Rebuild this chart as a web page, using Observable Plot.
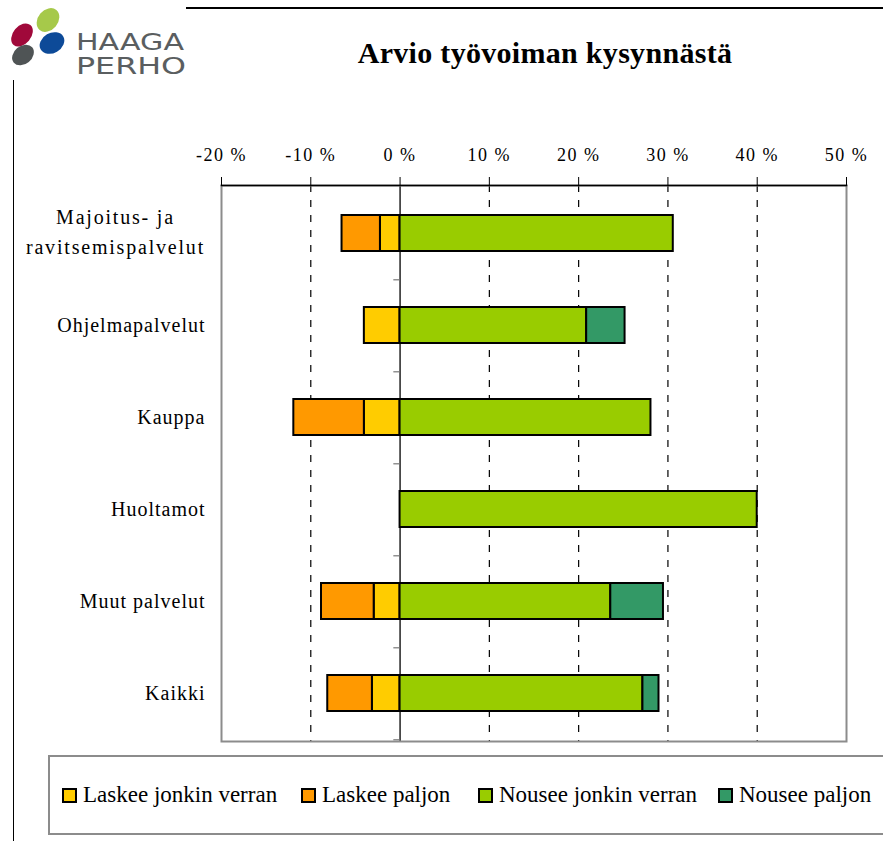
<!DOCTYPE html>
<html>
<head>
<meta charset="utf-8">
<script src="https://cdn.jsdelivr.net/npm/d3@7"></script>
<script src="https://cdn.jsdelivr.net/npm/@observablehq/plot@0.6"></script>
<style>
  html, body { margin: 0; padding: 0; background: #fff; }
  #page { position: relative; width: 883px; height: 841px; overflow: hidden; background: #fff; font-family: "Liberation Serif", "Times New Roman", serif; }
  #topline { position: absolute; left: 186px; top: 7px; width: 697px; height: 2px; background: #000; }
  #leftline { position: absolute; left: 13px; top: 80px; width: 1px; height: 761px; background: #000; }
  #logo { position: absolute; left: 0; top: 0; }
  #title { position: absolute; left: 0; width: 1090px; top: 36px; text-align: center; font-weight: bold; font-size: 30px; letter-spacing: 0.3px; color: #000; }
  #chart { position: absolute; left: 0; top: 0; }
  #chart svg, #chart svg text { font-family: "Liberation Serif", "Times New Roman", serif; }
  #chart svg text { fill: #000; }
  #chart g[aria-label="x-axis tick label"] text { letter-spacing: 1.5px; }
  #chart .catlab text { letter-spacing: 1px; }
  #chart .catlab2 text { letter-spacing: 1.8px; }
  #legend { position: absolute; left: 48px; top: 755px; width: 900px; height: 80px; border: 2px solid #8c8c8c; box-sizing: border-box; }
  .li { position: absolute; top: 25px; display: flex; align-items: center; font-size: 23px; white-space: nowrap; color: #000; }
  .sw { width: 11px; height: 11px; border: 2px solid #000; margin-right: 6px; }
</style>
</head>
<body>
<div id="page">
  <svg id="logo" width="200" height="85" viewBox="0 0 200 85">
    <ellipse cx="22" cy="35" rx="9" ry="13" transform="rotate(40 22 35)" fill="#a0093a"/>
    <ellipse cx="48" cy="20" rx="10" ry="13" transform="rotate(40 48 20)" fill="#a6c94a"/>
    <ellipse cx="52" cy="43" rx="10" ry="13" transform="rotate(60 52 43)" fill="#0d4a98"/>
    <ellipse cx="23" cy="55" rx="9" ry="12" transform="rotate(50 23 55)" fill="#4f5455"/>
    <text x="76" y="50" font-family="'DejaVu Sans', sans-serif" font-size="23" fill="#5a5e60" textLength="108" lengthAdjust="spacingAndGlyphs">HAAGA</text>
    <text x="76" y="74" font-family="'DejaVu Sans', sans-serif" font-size="23" fill="#5a5e60" textLength="110" lengthAdjust="spacingAndGlyphs">PERHO</text>
  </svg>
  <div id="topline"></div>
  <div id="leftline"></div>
  <div id="title">Arvio työvoiman kysynnästä</div>
  <div id="chart"></div>
  <div id="legend"></div>
</div>
<script>
// ---- data ----
const categories = ["Majoitus- ja ravitsemispalvelut", "Ohjelmapalvelut", "Kauppa", "Huoltamot", "Muut palvelut", "Kaikki"];
const categoryLabels = ["Majoitus- ja\nravitsemispalvelut", "Ohjelmapalvelut", "Kauppa", "Huoltamot", "Muut palvelut", "Kaikki"];
const seriesNames = ["Laskee jonkin verran", "Laskee paljon", "Nousee jonkin verran", "Nousee paljon"];
const seriesColors = ["#ffcc00", "#ff9900", "#99cc00", "#339966"];
const laskeeJonkinVerran = [-2.2, -4.0, -4.0, 0, -2.9, -3.1];
const laskeePaljon = [-4.3, 0, -7.9, 0, -5.9, -5.0];
const nouseeJonkinVerran = [30.6, 20.9, 28.1, 40.0, 23.6, 27.2];
const nouseePaljon = [0, 4.3, 0, 0, 5.9, 1.8];
const xTicks = [-20, -10, 0, 10, 20, 30, 40, 50];
const gridTicks = [-10, 10, 20, 30, 40];

const seriesValues = [laskeeJonkinVerran, laskeePaljon, nouseeJonkinVerran, nouseePaljon];
const rows = [];
seriesNames.forEach((s, si) => {
  categories.forEach((c, ci) => {
    const v = seriesValues[si][ci];
    if (v !== 0) rows.push({category: c, series: s, value: v});
  });
});
const labelOf = new Map(categories.map((c, i) => [c, categoryLabels[i]]));
const multi = categories.filter(c => labelOf.get(c).includes("\n"));
const single = categories.filter(c => !labelOf.get(c).includes("\n"));

const chart = Plot.plot({
  width: 883,
  height: 760,
  marginLeft: 221,
  marginRight: 37,
  marginTop: 185,
  marginBottom: 19,
  style: {fontFamily: "'Liberation Serif', 'Times New Roman', serif", fontSize: "18px", background: "transparent", overflow: "visible", color: "#000"},
  x: {domain: [-20, 50], axis: null},
  y: {domain: categories, paddingInner: 0.61, paddingOuter: 0.305, axis: null},
  color: {domain: seriesNames, range: seriesColors},
  marks: [
    Plot.ruleX(gridTicks, {stroke: "#000", strokeWidth: 1.2, strokeDasharray: "7,8"}),
    Plot.ruleX([0], {stroke: "#000", strokeWidth: 1.3}),
    Plot.ruleY(categories, {x1: -0.7, x2: 0, dy: 46.3, stroke: "#777", strokeWidth: 1.2}),
    Plot.barX(rows, {x: "value", y: "category", fill: "series", stroke: "#000", strokeWidth: 2, order: seriesNames}),
    Plot.frame({stroke: "#8c8c8c", strokeWidth: 2}),
    Plot.frame({anchor: "top", stroke: "#000", strokeWidth: 1.5}),
    Plot.axisX({anchor: "top", ticks: xTicks, tickSize: 9, tickPadding: 16, tickFormat: d => `${d} %`, fontSize: 18, label: null, stroke: "#000"}),
    Plot.text(single, {y: d => d, text: d => labelOf.get(d), frameAnchor: "left", textAnchor: "end", dx: -16, fontSize: 20, className: "catlab"}),
    Plot.text(multi, {y: d => d, text: d => labelOf.get(d), frameAnchor: "left", textAnchor: "middle", dx: -106, dy: -4, fontSize: 20, lineHeight: 1.5, className: "catlab2"})
  ]
});
document.getElementById("chart").appendChild(chart);

// legend from series arrays
const lg = document.getElementById("legend");
const legendX = [12, 251, 428, 668];
seriesNames.forEach((s, i) => {
  const item = document.createElement("div");
  item.className = "li";
  item.style.left = legendX[i] + "px";
  const sw = document.createElement("div");
  sw.className = "sw";
  sw.style.background = seriesColors[i];
  const t = document.createElement("span");
  t.textContent = s;
  item.appendChild(sw);
  item.appendChild(t);
  lg.appendChild(item);
});
</script>
</body>
</html>
